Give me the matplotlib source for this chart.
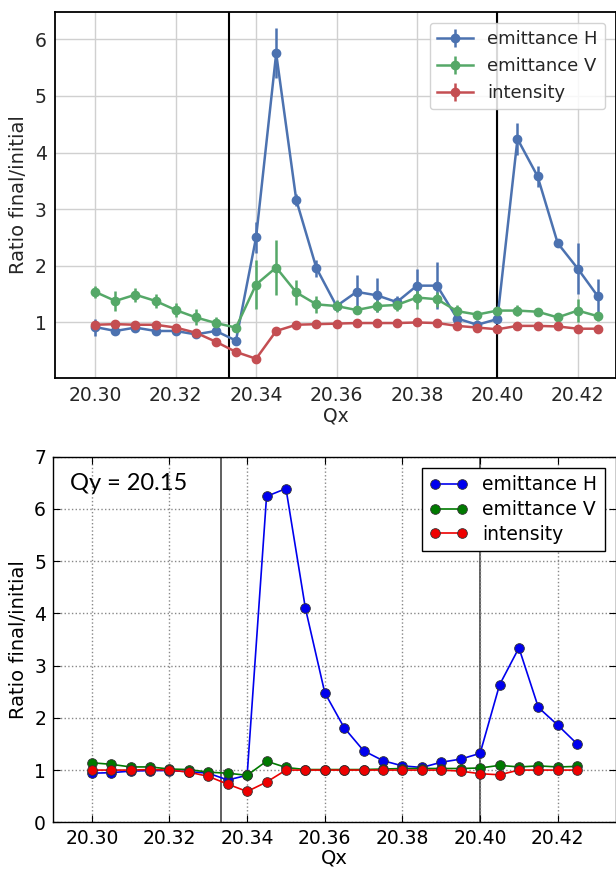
import matplotlib
matplotlib.use("Agg")
import matplotlib.pyplot as plt

# Qx scan points (shared by both panels)
qx = [20.300, 20.305, 20.310, 20.315, 20.320, 20.325, 20.330, 20.335, 20.340,
      20.345, 20.350, 20.355, 20.360, 20.365, 20.370, 20.375, 20.380, 20.385,
      20.390, 20.395, 20.400, 20.405, 20.410, 20.415, 20.420, 20.425]

# top panel: measured ratios with error bars
top_emit_h = [0.92, 0.85, 0.91, 0.85, 0.85, 0.79, 0.85, 0.68, 2.50, 5.75, 3.16, 1.96, 1.29,
              1.54, 1.48, 1.36, 1.65, 1.65, 1.07, 0.96, 1.06, 4.24, 3.58, 2.40, 1.95, 1.46]
top_emit_h_err = [0.15, 0.07, 0.05, 0.04, 0.04, 0.03, 0.03, 0.03, 0.27, 0.44, 0.10, 0.15, 0.05,
                  0.30, 0.30, 0.10, 0.30, 0.42, 0.12, 0.08, 0.05, 0.28, 0.18, 0.06, 0.45, 0.30]
top_emit_v = [1.54, 1.38, 1.49, 1.38, 1.22, 1.09, 0.99, 0.91, 1.67, 1.97, 1.53, 1.32, 1.29,
              1.22, 1.29, 1.31, 1.44, 1.41, 1.20, 1.14, 1.21, 1.21, 1.19, 1.09, 1.21, 1.11]
top_emit_v_err = [0.10, 0.18, 0.12, 0.12, 0.13, 0.14, 0.10, 0.05, 0.43, 0.48, 0.22, 0.15, 0.10,
                  0.05, 0.10, 0.10, 0.20, 0.13, 0.10, 0.06, 0.05, 0.10, 0.04, 0.03, 0.20, 0.08]
top_intensity = [0.96, 0.97, 0.96, 0.96, 0.91, 0.82, 0.66, 0.48, 0.36, 0.85, 0.96, 0.97, 0.98,
                 0.99, 0.99, 0.99, 1.00, 0.99, 0.94, 0.91, 0.88, 0.94, 0.94, 0.93, 0.89, 0.89]
top_intensity_err = [0.02, 0.01, 0.01, 0.01, 0.02, 0.02, 0.02, 0.02, 0.02, 0.02, 0.01, 0.01, 0.01,
                     0.01, 0.01, 0.01, 0.01, 0.01, 0.05, 0.04, 0.02, 0.02, 0.01, 0.01, 0.02, 0.01]

# bottom panel: simulation, Qy = 20.15
bot_emit_h = [0.94, 0.95, 0.98, 0.99, 0.99, 0.97, 0.94, 0.81, 0.90, 6.24, 6.39, 4.10, 2.48,
              1.81, 1.37, 1.18, 1.08, 1.05, 1.15, 1.21, 1.32, 2.63, 3.34, 2.20, 1.86, 1.50]
bot_emit_v = [1.14, 1.11, 1.06, 1.06, 1.02, 1.01, 0.96, 0.94, 0.90, 1.17, 1.05, 1.01, 1.01,
              1.01, 1.01, 1.02, 1.03, 1.03, 1.03, 1.03, 1.04, 1.09, 1.06, 1.08, 1.06, 1.07]
bot_intensity = [1.00, 1.00, 1.00, 1.01, 1.00, 0.96, 0.88, 0.73, 0.59, 0.77, 1.00, 1.00, 1.00,
                 1.00, 1.00, 1.00, 1.00, 1.00, 1.00, 0.98, 0.93, 0.91, 1.00, 1.00, 1.00, 1.00]

resonances = [20.3333, 20.40]
xticks = [20.30, 20.32, 20.34, 20.36, 20.38, 20.40, 20.42]
xticklabels = ["20.30", "20.32", "20.34", "20.36", "20.38", "20.40", "20.42"]

fig = plt.figure(figsize=(6.16, 8.73), dpi=100)

# ---- top panel (seaborn-like look) ----
dark = "#262626"
ax1 = fig.add_axes([55 / 616, 1 - 378 / 873, 561 / 616, 366 / 873])
ax1.set_axisbelow(True)
ax1.grid(True, color="#d0d0d0", lw=1.0)
for s in ax1.spines.values():
    s.set_color("black")
    s.set_linewidth(1.3)
ax1.tick_params(length=0, labelsize=13.5, labelcolor=dark, pad=6)

series_top = [
    (top_emit_h, top_emit_h_err, "#4C72B0", "emittance H"),
    (top_emit_v, top_emit_v_err, "#55A868", "emittance V"),
    (top_intensity, top_intensity_err, "#C44E52", "intensity"),
]
for vals, errs, col, lab in series_top:
    ax1.errorbar(qx, vals, yerr=errs, color=col, marker="o", ms=6, lw=1.8,
                 elinewidth=1.8, capsize=0, label=lab)
for r in resonances:
    ax1.axvline(r, color="black", lw=1.5, zorder=1.5)

ax1.set_xlim(20.29, 20.4295)
ax1.set_ylim(0.02, 6.48)
ax1.set_xticks(xticks)
ax1.set_xticklabels(xticklabels)
ax1.set_yticks([1, 2, 3, 4, 5, 6])
ax1.set_xlabel("Qx", fontsize=13.5, color=dark, labelpad=1)
ax1.set_ylabel("Ratio final/initial", fontsize=14, color=dark, labelpad=5)
leg1 = ax1.legend(loc="upper right", fontsize=13, frameon=True, fancybox=True,
                  framealpha=0.85, edgecolor="#cccccc", borderaxespad=0.6,
                  handlelength=2.0, labelspacing=0.5)
for t in leg1.get_texts():
    t.set_color(dark)

# ---- bottom panel (classic matplotlib look) ----
ax2 = fig.add_axes([53 / 616, 1 - 822.3 / 873, 563 / 616, 365.6 / 873])
ax2.grid(True, color="#888888", ls=":", lw=1.0)
for s in ax2.spines.values():
    s.set_color("black")
    s.set_linewidth(1.0)
ax2.tick_params(direction="in", top=True, right=True, length=5, labelsize=13.5, pad=5)

series_bot = [
    (bot_emit_h, "#0000ee", "emittance H"),
    (bot_emit_v, "#007a00", "emittance V"),
    (bot_intensity, "#ee0000", "intensity"),
]
for vals, col, lab in series_bot:
    ax2.plot(qx, vals, color=col, marker="o", ms=7, mec="#333333", mew=0.6,
             lw=1.2, label=lab)
for r in resonances:
    ax2.axvline(r, color="#444444", lw=1.2, zorder=1.5)

ax2.set_xlim(20.29, 20.435)
ax2.set_ylim(0, 7)
ax2.set_xticks(xticks)
ax2.set_xticklabels(xticklabels)
ax2.set_yticks([0, 1, 2, 3, 4, 5, 6, 7])
ax2.set_xlabel("Qx", fontsize=14, labelpad=0)
ax2.set_ylabel("Ratio final/initial", fontsize=14, labelpad=4)
ax2.text(0.03, 0.928, "Qy = 20.15", transform=ax2.transAxes, fontsize=17,
         family="Lato", va="center", ha="left")
leg2 = ax2.legend(loc="upper right", fontsize=13.5, numpoints=2, fancybox=False,
                  framealpha=1, edgecolor="black", borderaxespad=0.6,
                  handlelength=2.0, labelspacing=0.3)
leg2.get_frame().set_linewidth(1.0)

fig.savefig("out.png", dpi=100)
